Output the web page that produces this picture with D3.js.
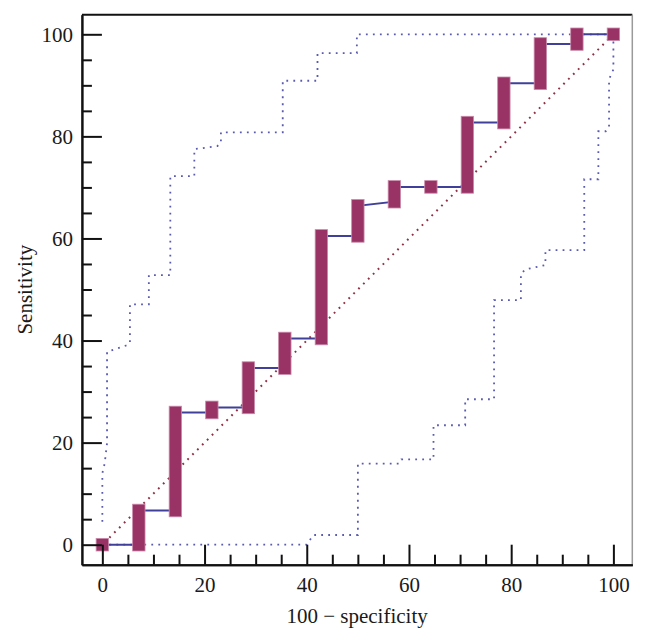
<!DOCTYPE html>
<html>
<head>
<meta charset="utf-8">
<script src="https://cdn.jsdelivr.net/npm/d3@7"></script>
<style>
  html, body { margin: 0; padding: 0; background: #fff; }
  svg { display: block; }
  text { font-family: "Liberation Serif", "DejaVu Serif", serif; fill: #1a1a1a; }
</style>
</head>
<body>
<svg id="chart" width="647" height="644"></svg>
<script>
// ---- Data ----
// ROC criterion points: 100 - specificity, sensitivity entering and leaving each point
const fpr      = [0, 7.14, 14.29, 21.43, 28.57, 35.71, 42.86, 50, 57.14, 64.29, 71.43, 78.57, 85.71, 92.86, 100];
const sensIn   = [0, 0,    6.7,   25.9,  26.9,  34.6,  40.4,  60.5, 67.2, 70.1, 70.1, 82.7, 90.4, 98.1, 100];
const sensOut  = [0, 6.7,  25.9,  26.9,  34.6,  40.4,  60.5,  66.4, 70.1, 70.1, 82.7, 90.4, 98.1, 100, 100];

// Upper 95% confidence bound
const upperX = [0,   0,    0.45, 0.92, 0.92, 4.9,  5.4,  5.4,  9.1,  9.1,  13.3, 13.3, 18.0, 18.0, 19.6, 22.5, 23.2, 23.2, 35.3, 35.3, 42.1, 42.1, 49.8, 49.8, 100];
const upperY = [4.5, 14.0, 15.9, 19.9, 37.8, 39.1, 39.5, 47.1, 47.1, 52.8, 52.8, 72.2, 72.2, 77.5, 77.7, 78.1, 78.7, 80.8, 80.8, 90.9, 90.9, 96.3, 96.3, 100,  100];

// Lower 95% confidence bound
const lowerX = [0, 40, 41.3, 50,  50,   58.1, 58.5, 64.8, 64.8, 71.0, 71.0, 76.65, 76.65, 81.9, 81.9, 82.7, 86.7, 86.7, 94.3, 94.3, 97.06, 97.06, 98.5, 99.15, 99.15, 100,  100];
const lowerY = [0, 0,  1.9,  1.9, 15.9, 15.9, 16.7, 16.7, 23.4, 23.4, 28.5, 28.5,  47.9,  47.9, 53.0, 53.9, 54.8, 57.7, 57.7, 71.6, 71.6,  81.0,  81.0, 81.8,  91.2,  93.1, 100];

// Reference diagonal
const diagX = [0, 100];
const diagY = [0, 100];

// Ticks
const majorTicks = [0, 20, 40, 60, 80, 100];
const minorTicks = [5, 10, 15, 25, 30, 35, 45, 50, 55, 65, 70, 75, 85, 90, 95];

const xTitle = "100 \u2212 specificity";
const yTitle = "Sensitivity";

// ---- Drawing ----
const svg = d3.select("#chart");
const x = d3.scaleLinear().domain([-4, 103.7]).range([81.9, 632.3]);
const y = d3.scaleLinear().domain([-3.92, 103.84]).range([564.7, 14.7]);

const dotBlue = "#5a5ab0";
const lineBlue = "#40409a";
const diagRed = "#8e2f45";
const boxFill = "#993366";
const boxStroke = "#c98aaa";

const line = d3.line().x(d => x(d[0])).y(d => y(d[1]));

// frame (top and right)
svg.append("line").attr("x1", x(-4)).attr("x2", x(103.7)).attr("y1", y(103.84)).attr("y2", y(103.84))
  .attr("stroke", "#111").attr("stroke-width", 2);
svg.append("line").attr("x1", x(103.7)).attr("x2", x(103.7)).attr("y1", y(103.84)).attr("y2", y(-3.92))
  .attr("stroke", "#9a9a9a").attr("stroke-width", 1.5);

// confidence bounds
svg.append("path").datum(upperX.map((v, i) => [v, upperY[i]])).attr("d", line)
  .attr("fill", "none").attr("stroke", dotBlue).attr("stroke-width", 1.8).attr("stroke-dasharray", "1.8,5.2");
svg.append("path").datum(lowerX.map((v, i) => [v, lowerY[i]])).attr("d", line)
  .attr("fill", "none").attr("stroke", dotBlue).attr("stroke-width", 1.8).attr("stroke-dasharray", "1.8,5.2");

// diagonal
svg.append("path").datum(diagX.map((v, i) => [v, diagY[i]])).attr("d", line)
  .attr("fill", "none").attr("stroke", diagRed).attr("stroke-width", 2).attr("stroke-dasharray", "1.8,5.1")
  .attr("stroke-dashoffset", -3);

// ROC curve
const curvePts = [];
fpr.forEach((v, i) => { curvePts.push([v, sensIn[i]]); curvePts.push([v, sensOut[i]]); });
svg.append("path").datum(curvePts).attr("d", line)
  .attr("fill", "none").attr("stroke", lineBlue).attr("stroke-width", 2);

// criterion boxes
const boxW = 12.4, pad = 6.3;
svg.append("g").selectAll("rect").data(fpr.map((v, i) => ({ fx: v, lo: sensIn[i], hi: sensOut[i] })))
  .join("rect")
  .attr("x", d => x(d.fx) - boxW / 2)
  .attr("y", d => y(d.hi) - pad)
  .attr("width", boxW)
  .attr("height", d => y(d.lo) - y(d.hi) + 2 * pad)
  .attr("fill", boxFill).attr("stroke", boxStroke).attr("stroke-width", 0.8);

// axes
const yMajor = d3.axisLeft(y).tickValues(majorTicks).tickSize(-20).tickSizeOuter(0).tickPadding(9).tickFormat(d3.format("d"));
const yMinor = d3.axisLeft(y).tickValues(minorTicks).tickSize(-10).tickSizeOuter(0).tickFormat("");
const xMajor = d3.axisBottom(x).tickValues(majorTicks).tickSize(-20).tickSizeOuter(0).tickPadding(12).tickFormat(d3.format("d"));
const xMinor = d3.axisBottom(x).tickValues(minorTicks).tickSize(-10).tickSizeOuter(0).tickFormat("");

function styleAxis(g) {
  g.select(".domain").attr("stroke", "#111").attr("stroke-width", 2);
  g.selectAll(".tick line").attr("stroke", "#111").attr("stroke-width", 2);
  g.selectAll(".tick text").style("font-family", '"Liberation Serif", serif').style("font-size", "21px").attr("fill", "#1a1a1a");
}
svg.append("g").attr("transform", `translate(${x(-4)},0)`).call(yMinor).call(styleAxis);
svg.append("g").attr("transform", `translate(${x(-4)},0)`).call(yMajor).call(styleAxis);
svg.append("g").attr("transform", `translate(0,${y(-3.92)})`).call(xMinor).call(styleAxis);
svg.append("g").attr("transform", `translate(0,${y(-3.92)})`).call(xMajor).call(styleAxis);

// titles
svg.append("text").attr("x", (x(-4) + x(103.7)) / 2).attr("y", 622.5)
  .attr("text-anchor", "middle").style("font-size", "21px").text(xTitle);
svg.append("text").attr("transform", `translate(32,${(y(-3.92) + y(103.84)) / 2}) rotate(-90)`)
  .attr("text-anchor", "middle").style("font-size", "21px").text(yTitle);
</script>
</body>
</html>
